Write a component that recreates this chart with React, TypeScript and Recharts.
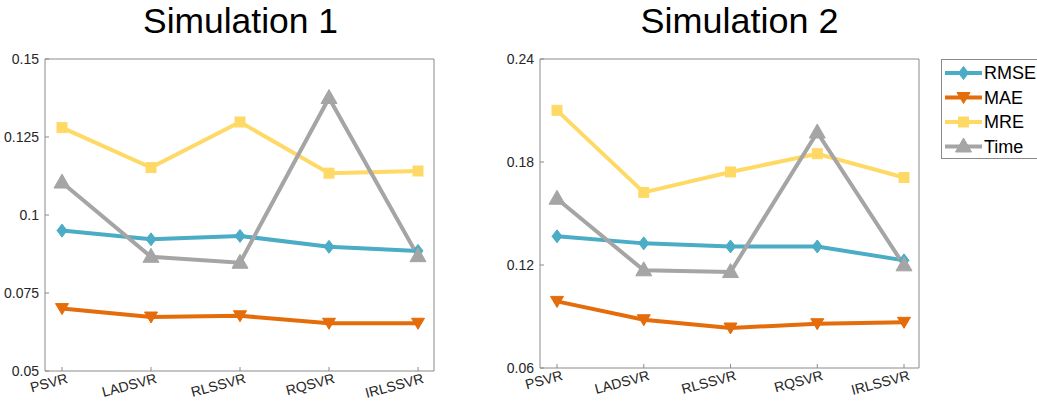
import React from 'react';
import { LineChart, Line, XAxis, YAxis } from 'recharts';

const categories = ['PSVR', 'LADSVR', 'RLSSVR', 'RQSVR', 'IRLSSVR'];

const sim1RMSE = [0.095, 0.0922, 0.0933, 0.0898, 0.0885];
const sim1MAE = [0.07, 0.0673, 0.0677, 0.0653, 0.0653];
const sim1MRE = [0.128, 0.1152, 0.1298, 0.1134, 0.1141];
const sim1Time = [0.1104, 0.0866, 0.0847, 0.1375, 0.0868];

const sim2RMSE = [0.1367, 0.1326, 0.1308, 0.1308, 0.1227];
const sim2MAE = [0.0988, 0.0881, 0.0833, 0.0858, 0.0866];
const sim2MRE = [0.2101, 0.1623, 0.1742, 0.1848, 0.171];
const sim2Time = [0.1586, 0.1169, 0.1159, 0.1972, 0.1198];

const sim1Ticks = [0.05, 0.075, 0.1, 0.125, 0.15];
const sim2Ticks = [0.06, 0.12, 0.18, 0.24];

const titles = ['Simulation 1', 'Simulation 2'];
const seriesNames = ['RMSE', 'MAE', 'MRE', 'Time'];

const COLORS: Record<string, string> = {
  RMSE: '#4BACC6',
  MAE: '#E46C0A',
  MRE: '#FFD966',
  Time: '#A5A5A5',
};

const AXIS = '#8a8a8a';
const TXT = '#262626';
const FONT = 'Liberation Sans, Arial, sans-serif';

const build = (r: number[], m: number[], e: number[], t: number[]) =>
  categories.map((c, i) => ({ name: c, RMSE: r[i], MAE: m[i], MRE: e[i], Time: t[i] }));

const data1 = build(sim1RMSE, sim1MAE, sim1MRE, sim1Time);
const data2 = build(sim2RMSE, sim2MAE, sim2MRE, sim2Time);

function Marker({ kind, cx, cy, color }: { kind: string; cx: number; cy: number; color: string }) {
  if (cx == null || cy == null) return null;
  if (kind === 'RMSE') {
    return <polygon points={`${cx},${cy - 6.5} ${cx + 5},${cy} ${cx},${cy + 6.5} ${cx - 5},${cy}`} fill={color} stroke={color} strokeWidth={1} />;
  }
  if (kind === 'MAE') {
    return <polygon points={`${cx - 6.5},${cy - 5} ${cx + 6.5},${cy - 5} ${cx},${cy + 6}`} fill={color} stroke={color} strokeWidth={1} />;
  }
  if (kind === 'MRE') {
    return <rect x={cx - 5} y={cy - 5} width={10} height={10} fill={color} stroke={color} strokeWidth={1} />;
  }
  return <polygon points={`${cx},${cy - 8.5} ${cx + 8},${cy + 5.5} ${cx - 8},${cy + 5.5}`} fill={color} stroke={color} strokeWidth={1} />;
}

const makeDot = (kind: string) => (props: any) => (
  <Marker key={`${kind}-${props.index}`} kind={kind} cx={props.cx} cy={props.cy} color={COLORS[kind]} />
);

const renderYTick = (props: any) => {
  const { x, y, payload, index } = props;
  return (
    <text key={`yt-${index}`} x={x} y={y} dy={5} textAnchor="end" style={{ fontSize: 14, fontFamily: FONT, fill: TXT }}>
      {String(payload.value)}
    </text>
  );
};

function Panel({
  data,
  ticks,
  width,
  margin,
  padding,
}: {
  data: any[];
  ticks: number[];
  width: number;
  margin: any;
  padding: { left: number; right: number };
}) {
  const domain: [number, number] = [ticks[0], ticks[ticks.length - 1]];
  return (
    <LineChart width={width} height={410} data={data} margin={margin}>
      <XAxis
        xAxisId="bottom"
        dataKey="name"
        orientation="bottom"
        height={30}
        padding={padding}
        interval={0}
        stroke={AXIS}
        tickSize={-4}
        tickMargin={6}
        angle={-15}
        textAnchor="end"
        dx={4}
        tick={{ fontSize: 14, fontFamily: FONT, fill: TXT }}
      />
      <XAxis
        xAxisId="top"
        dataKey="name"
        orientation="top"
        height={1}
        padding={padding}
        interval={0}
        stroke={AXIS}
        tickSize={-4}
        tick={false}
      />
      <YAxis
        yAxisId="left"
        orientation="left"
        width={45}
        domain={domain}
        ticks={ticks}
        type="number"
        allowDataOverflow
        interval={0}
        stroke={AXIS}
        tickSize={-4}
        tickMargin={10}
        tick={renderYTick}
      />
      <YAxis
        yAxisId="right"
        orientation="right"
        width={1}
        domain={domain}
        ticks={ticks}
        type="number"
        allowDataOverflow
        interval={0}
        stroke={AXIS}
        tickSize={-4}
        tick={false}
      />
      {seriesNames.map((s) => (
        <Line
          key={s}
          xAxisId="bottom"
          yAxisId="left"
          type="linear"
          dataKey={s}
          stroke={COLORS[s]}
          strokeWidth={4}
          dot={makeDot(s)}
          activeDot={false}
          isAnimationActive={false}
        />
      ))}
    </LineChart>
  );
}

export default function App() {
  return (
    <div style={{ position: 'absolute', left: 0, top: 0, width: 1037, height: 410, background: '#fff', overflow: 'hidden' }}>
      <div style={{ position: 'absolute', left: 0, top: 0 }}>
        <Panel data={data1} ticks={sim1Ticks} width={460} margin={{ top: 58, right: 25, bottom: 9, left: 0 }} padding={{ left: 17, right: 16 }} />
      </div>
      <div style={{ position: 'absolute', left: 495, top: 0 }}>
        <Panel data={data2} ticks={sim2Ticks} width={440} margin={{ top: 58, right: 15, bottom: 12, left: 0 }} padding={{ left: 17, right: 15 }} />
      </div>
      <svg width={1037} height={410} style={{ position: 'absolute', left: 0, top: 0, pointerEvents: 'none' }}>
        <text x={240.5} y={32.5} textAnchor="middle" fontSize={35} fontFamily={FONT} fill="#000" textLength={195} lengthAdjust="spacingAndGlyphs">
          {titles[0]}
        </text>
        <text x={739.5} y={32.5} textAnchor="middle" fontSize={35} fontFamily={FONT} fill="#000" textLength={198} lengthAdjust="spacingAndGlyphs">
          {titles[1]}
        </text>
        <rect x={941.5} y={59.5} width={120} height={99} fill="#fff" stroke={AXIS} strokeWidth={1} />
        {seriesNames.map((s, i) => {
          const cy = 73 + i * 24.5;
          return (
            <g key={s}>
              <line x1={945} y1={cy} x2={982} y2={cy} stroke={COLORS[s]} strokeWidth={4} />
              <Marker kind={s} cx={963.5} cy={cy} color={COLORS[s]} />
              <text x={984} y={cy} dy={6} style={{ fontSize: 18, fontFamily: FONT, fill: '#000' }}>
                {s}
              </text>
            </g>
          );
        })}
      </svg>
    </div>
  );
}
